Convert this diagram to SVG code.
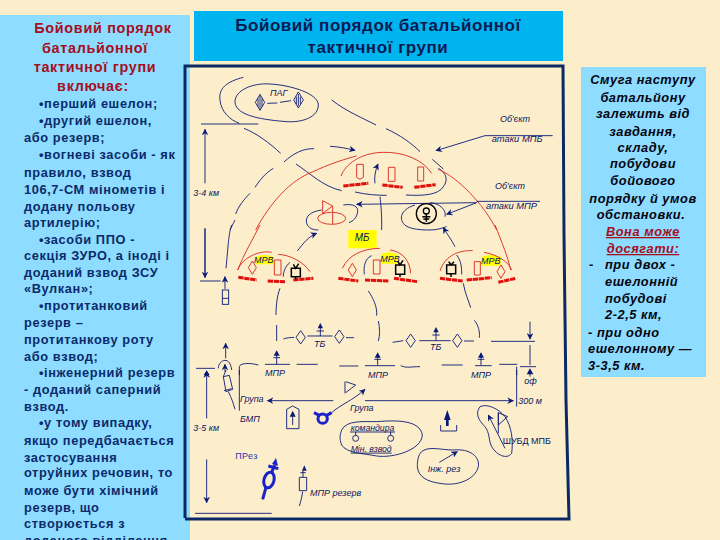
<svg xmlns="http://www.w3.org/2000/svg" width="720" height="540" viewBox="0 0 720 540">
<style>
.l{font:bold 12.8px "Liberation Sans",Arial,sans-serif;fill:#0b2a6b;letter-spacing:.6px}
.h{font:bold 14.4px "Liberation Sans",Arial,sans-serif;fill:#a50f1e;letter-spacing:.7px;text-anchor:middle}
.r{font:italic bold 12.8px "Liberation Sans",Arial,sans-serif;fill:#050510;letter-spacing:.55px}
.m{text-anchor:middle}
.t{font:bold 17px "Liberation Sans",Arial,sans-serif;fill:#0a1a50;text-anchor:middle;letter-spacing:.55px}
.n{fill:none;stroke:#0a1a78;stroke-width:2.7}
.nf{fill:#0a1a78;stroke:none}
.a{fill:none;stroke:#0a1a78;stroke-width:2.7;marker-end:url(#ah)}
.red{fill:none;stroke:#d8261c;stroke-width:2.7}
.rt{fill:none;stroke:#e0100c;stroke-width:9;stroke-dasharray:16 2}
.k{fill:none;stroke:#000;stroke-width:4.5}
.b{fill:none;stroke:#1a22c8;stroke-width:9}
.lb{font:italic 27px "Liberation Sans",Arial,sans-serif;fill:#0a1560}
.y{fill:#ffff00}
</style>
<defs>
<marker id="ah" viewBox="0 0 10 10" refX="9" refY="5" markerWidth="20" markerHeight="20" markerUnits="userSpaceOnUse" orient="auto"><path d="M0 0L10 5L0 10L3 5Z" fill="#0a1a78"/></marker>
</defs>
<rect width="720" height="540" fill="#fdeecb"/>
<g id="left-panel">
<rect x="0" y="15" width="190" height="525" fill="#8edcff"/>
<text class="h" x="103" y="33">Бойовий порядок</text>
<text class="h" x="95" y="53">батальйонної</text>
<text class="h" x="95" y="72">тактичної групи</text>
<text class="h" x="93" y="91">включає:</text>
<text class="l" x="39" y="108">•перший ешелон;</text>
<text class="l" x="39" y="125">•другий ешелон,</text>
<text class="l" x="24" y="142">або резерв;</text>
<text class="l" x="39" y="159">•вогневі засоби - як</text>
<text class="l" x="24" y="177">правило, взвод</text>
<text class="l" x="24" y="194">106,7-СМ мінометів і</text>
<text class="l" x="24" y="211">додану польову</text>
<text class="l" x="24" y="227">артилерію;</text>
<text class="l" x="39" y="244">•засоби ППО -</text>
<text class="l" x="24" y="260">секція ЗУРО, а іноді і</text>
<text class="l" x="24" y="277">доданий взвод ЗСУ</text>
<text class="l" x="24" y="293">«Вулкан»;</text>
<text class="l" x="39" y="310">•протитанковий</text>
<text class="l" x="24" y="327">резерв –</text>
<text class="l" x="24" y="344">протитанкову роту</text>
<text class="l" x="24" y="361">або взвод;</text>
<text class="l" x="39" y="377">•інженерний резерв</text>
<text class="l" x="24" y="394">- доданий саперний</text>
<text class="l" x="24" y="411">взвод.</text>
<text class="l" x="39" y="427">•у тому випадку,</text>
<text class="l" x="24" y="445">якщо передбачається</text>
<text class="l" x="24" y="462">застосування</text>
<text class="l" x="24" y="477">отруйних речовин, то</text>
<text class="l" x="24" y="495">може бути хімічний</text>
<text class="l" x="24" y="512">резерв, що</text>
<text class="l" x="24" y="528">створюється з</text>
<text class="l" x="24" y="545">доданого відділення</text>
</g>
<g id="title">
<rect x="194" y="11" width="369" height="50" fill="#00b4f0"/>
<text class="t" x="378" y="31">Бойовий порядок батальйонної</text>
<text class="t" x="378" y="53">тактичної групи</text>
</g>
<path id="frame" d="M185 518V66H563L564 235L566 400L569 519H185" fill="none" stroke="#0a2a66" stroke-width="3"/>
<g id="right-panel">
<rect x="581" y="67" width="125" height="310" fill="#8edcff"/>
<g class="m">
<text class="r m" x="643" y="84">Смуга наступу</text>
<text class="r m" x="643" y="102">батальйону</text>
<text class="r m" x="643" y="118">залежить від</text>
<text class="r m" x="643" y="136">завдання,</text>
<text class="r m" x="643" y="152">складу,</text>
<text class="r m" x="643" y="168">побудови</text>
<text class="r m" x="643" y="185">бойового</text>
<text class="r m" x="643" y="203">порядку й умов</text>
<text class="r m" x="641" y="219">обстановки.</text>
<text class="r m" x="643" y="236" style="fill:#a50f1e;text-decoration:underline">Вона може</text>
<text class="r m" x="643" y="253" style="fill:#a50f1e;text-decoration:underline">досягати:</text>
</g>
<text class="r" x="589" y="269">-</text>
<text class="r" x="605" y="269">при двох -</text>
<text class="r" x="605" y="286">ешелонній</text>
<text class="r" x="605" y="303">побудові</text>
<text class="r" x="605" y="319">2-2,5 км,</text>
<text class="r" x="588" y="337">- при одно</text>
<text class="r" x="588" y="353">ешелонному —</text>
<text class="r" x="588" y="370">3-3,5 км.</text>
</g>

<g id="upper" transform="translate(190 70) scale(.33333)">
<path class="n" d="M135 95C135 60 190 38 240 42C300 45 385 70 385 105C385 140 340 158 290 155C230 150 135 140 135 95Z"/>
<path class="n" d="M160 22C110 35 85 55 90 90C93 125 120 150 148 160M33 162H205"/>
<path class="n" d="M210 73L224 97L210 121L196 97ZM210 78V116M204 85V110M216 85V110M325 66L340 90L325 114L311 90ZM325 72V108M319 80V102M331 80V102M232 100L262 99M270 97L303 92"/>
<text class="lb" x="240" y="79">ПАГ</text>
<path class="a" d="M45 340V178"/>
<text class="lb" x="10" y="377">3-4 км</text>
<path class="n" d="M425 90C470 125 520 145 558 165M588 176C630 195 665 220 690 245M162 175C200 190 240 220 272 250M282 276C310 250 340 235 372 236M318 282C360 310 400 350 455 362M495 366C530 374 560 376 590 376M648 375C700 378 745 375 760 350C775 330 770 310 745 295M727 268L760 297M250 295C225 310 210 330 195 352M180 370C160 390 145 410 137 432M135 450C128 465 122 475 120 480M570 380C572 400 576 430 575 480"/>
<path class="a" d="M420 229C445 230 470 235 495 241"/>
<path class="a" d="M555 340C552 325 556 300 564 282"/>
<path class="red" d="M197 480C240 400 300 330 370 305C410 285 470 265 500 258M453 318C465 285 510 248 580 247C640 245 700 270 725 310M745 298C800 320 880 400 920 480"/>
<path class="red" d="M500 283H520V322L510 328L500 322ZM595 292H615V334H595ZM683 291H701V333H683Z"/>
<path class="rt" d="M460 348L535 340M577 345L638 352M673 352L737 344"/>
<path class="n" d="M1050 394H860"/>
<path class="a" d="M860 398L500 403"/>
<path class="red" d="M398 392L428 408L398 430ZM428 408V462"/>
<ellipse class="red" cx="425" cy="445" rx="42" ry="18"/>
<path class="n" d="M460 405C490 400 505 410 503 425C500 445 490 452 477 458M395 420C360 425 345 440 350 460C355 475 370 480 385 480M675 405C640 415 625 440 640 460C650 475 680 480 720 480C740 480 755 475 770 470M720 398C750 400 770 420 765 440"/>
<circle cx="709" cy="431" r="30" fill="none" stroke="#000" stroke-width="4"/>
<circle cx="709" cy="423" r="9" fill="none" stroke="#000" stroke-width="4"/>
<path class="k" d="M709 432V455M697 440H721M700 447H718"/>
<path class="a" d="M860 398L770 433"/>
<text class="lb" x="930" y="157">Об'єкт</text>
<text class="lb" x="905" y="217" style="font-size:28px">атаки МПБ</text>
<path class="n" d="M1088 197H885"/>
<path class="a" d="M885 197L738 242"/>
<text class="lb" x="915" y="356">Об'єкт</text>
<text class="lb" x="888" y="416" style="font-size:28px">атаки МПР</text>
</g>

<g id="middle" transform="translate(190 225) scale(.33333)">
<path class="n" d="M45 10V150M30 168H92M105 170V192"/>
<path class="a" d="M45 10V158"/>
<path class="a" d="M105 172V155"/>
<rect x="97" y="195" width="19" height="43" fill="none" stroke="#0a1a78" stroke-width="2.7"/>
<path class="n" d="M97 220H116M125 0C115 30 115 60 108 130"/>
<rect class="y" x="475" y="15" width="85" height="55"/>
<text class="lb" x="494" y="48" style="font-size:30px">МБ</text>
<path class="y" d="M195 95Q225 85 250 95V118H195Z"/><path class="y" d="M575 87Q600 75 625 90V116H575Z"/><path class="y" d="M875 95Q900 85 932 95V122H875Z"/>
<path class="red" d="M210 0C190 40 160 90 143 135C160 95 210 75 245 82M265 88C300 90 340 110 360 140M457 130C475 90 520 70 570 70M600 75C640 80 660 110 662 145M750 138C765 90 810 75 848 77M882 82C925 90 955 110 965 135M915 0C935 50 955 100 962 135"/>
<path class="red" d="M187 108L199 128L187 148L175 128ZM253 105H273V150H253ZM487 115L499 135L487 155L475 135ZM550 105H570V147H550ZM853 110H871V150H853ZM933 120L945 140L933 160L921 140Z"/>
<path class="rt" d="M145 157L200 165M233 168L287 170M310 165L370 160M445 160L505 168M525 165L597 168M612 160L682 170M750 160L818 168M830 165L905 158M925 172L977 160"/>
<path class="k" d="M304 130H331V155H304ZM317 155V163M310 118L317 130L326 116M617 120H644V148H617ZM630 148V156M623 108L630 120L639 106M770 120H797V146H770ZM783 146V156M776 110L783 120L792 110"/>
<text class="lb" x="192" y="115">МРВ</text><text class="lb" x="571" y="110">МРВ</text><text class="lb" x="873" y="116">МРВ</text>
<path class="n" d="M545 92C525 100 520 125 523 148M800 90C815 110 815 130 815 148M300 112C285 125 280 140 280 155M270 190C260 215 258 250 258 270M260 300V348M535 198C550 220 562 245 560 272M565 288C570 310 570 330 565 348M820 175C825 205 835 225 842 248M853 286C865 300 870 320 868 338"/>
<path class="a" d="M322 78C340 55 355 35 380 25"/>
<path class="a" d="M795 65C785 45 770 25 760 8"/>
<path class="n" d="M280 342C290 338 300 338 312 337M332 317L346 337L332 357L318 337ZM352 333H428M448 315L462 335L448 355L434 335ZM468 338H492M391 300V333M380 318H402M608 352L640 347M662 327L676 347L662 367L648 347ZM688 347H782M802 327L816 347L802 367L788 347ZM822 348H852M738 312V347M727 330H749"/>
<path class="nf" d="M391 294L399 310H383ZM738 306L746 322H730Z"/>
<text class="lb" x="372" y="365">ТБ</text><text class="lb" x="720" y="375">ТБ</text>
<path class="a" d="M1020 290V342"/>
<path class="n" d="M903 349H1035M1020 360V420M990 425H1038M980 425V450"/>
<path class="nf" d="M1020 430L1030 448H1010Z"/>
<path class="n" d="M148 450V425C150 415 175 412 205 420M225 418H300M320 418H383M448 423H505M525 422H615M632 422C650 430 660 425 690 425M755 420H818M855 422H905M928 418H982M18 430H75M85 430C85 405 120 390 125 435"/>
<path class="n" d="M260 380V418M250 398H270M563 385V420M553 403H573M873 385V420M863 403H883"/>
<path class="nf" d="M260 376L269 392H251ZM563 382L572 398H554ZM873 382L882 398H864ZM50 436L59 450H41Z"/>
<path class="a" d="M107 400V355"/>
<path class="a" d="M105 440V418"/>
</g>

<g id="lower" transform="translate(190 370) scale(.33333)">
<path class="a" d="M50 145V5"/>
<path class="a" d="M50 268V398"/>
<path class="n" d="M15 430H245M148 0V122M108 0L100 20L118 16L128 58L108 65L100 20M102 62L125 56M115 65C125 85 130 100 135 118"/>
<text class="lb" x="10" y="184">3-5 км</text>
<text class="lb" x="225" y="18">МПР</text><text class="lb" x="534" y="24">МПР</text><text class="lb" x="843" y="24">МПР</text>
<text class="lb" x="150" y="95">Група</text><text class="lb" x="150" y="155">БМП</text>
<path class="a" d="M430 92H232"/>
<path class="a" d="M525 92H970"/>
<path class="n" d="M980 0V110"/>
<text class="lb" x="985" y="101">300 м</text>
<text class="lb" x="1003" y="41">оф</text>
<path class="n" d="M1020 0V20"/>
<path class="n" d="M290 118L308 108L327 118V176H290Z"/>
<path class="n" d="M308 165V135"/><path class="nf" d="M308 122L317 140H299Z"/>
<circle class="b" cx="398" cy="146" r="14"/>
<path class="b" d="M372 128L388 136M425 128L410 136"/>
<path class="n" d="M465 35V70M467 35L497 45L467 68"/>
<path class="a" d="M425 128C450 105 490 90 525 58"/>
<text class="lb" x="480" y="123">Група</text>
<path class="n" d="M455 180C470 150 520 155 560 155C620 150 690 150 697 195C695 240 610 265 560 258C520 250 470 250 455 225C447 205 450 195 455 180Z"/>
<text class="lb" x="482" y="182" style="font-size:26px">командира</text>
<path class="n" d="M480 186H615M497 186V196M602 186V196"/>
<circle class="n" cx="497" cy="205" r="9"/><circle class="n" cx="602" cy="205" r="9"/>
<text class="lb" x="482" y="245" style="font-size:26px;text-decoration:underline">Мін. взвод</text>
<path class="nf" d="M772 120L782 150H776V168H768V150H762Z"/>
<path class="n" d="M752 165V183H800V165"/>
<path class="n" d="M690 250C710 225 750 240 790 240C840 235 870 260 865 290C855 330 800 350 750 340C710 335 685 320 682 290C682 270 685 260 690 250Z"/>
<path class="a" d="M748 277L802 245"/>
<text class="lb" x="713" y="305">Інж. рез</text>
<path class="n" d="M870 110C890 100 925 115 945 140C965 170 970 210 965 250C950 270 920 255 905 230C895 210 900 190 885 170C865 150 855 130 870 110Z"/>
<path class="n" d="M925 128L953 140L925 165ZM925 128V190"/>
<path class="a" d="M945 235L895 135"/>
<text x="938" y="222" style="font:27px 'Liberation Sans',Arial,sans-serif;fill:#0a1560">ШУБД  МПБ</text>
<text x="136" y="266" style="font:27px 'Liberation Sans',Arial,sans-serif;fill:#2a35b0;letter-spacing:1px">ПРез</text>
<ellipse class="b" cx="237" cy="330" rx="15" ry="24" transform="rotate(15 237 330)"/>
<path class="b" d="M218 388L228 352M246 305L254 285M235 288L265 296"/>
<path d="M258 264L264 288L246 282Z" style="fill:#1a22c8"/>
<path class="n" d="M328 322H350V362H328ZM339 322V300M331 308H347M338 365C335 385 332 395 328 408"/>
<path class="nf" d="M343 286L350 302H336Z"/>
<text class="lb" x="360" y="377">МПР резерв</text>
</g>
</svg>
